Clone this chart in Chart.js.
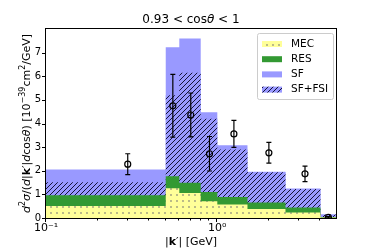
<!DOCTYPE html>
<html>
<head>
<meta charset="utf-8">
<script src="https://cdn.jsdelivr.net/npm/chart.js@4"></script>
<style>
  body { margin: 0; background: #fff; }
  #wrap { width: 374px; height: 249px; }
</style>
</head>
<body>
<div id="wrap"><canvas id="chart" width="374" height="249"></canvas></div>
<script>
// bin edges in |k'| [GeV]
const binEdges = [0.1, 0.5, 0.6, 0.8, 1.0, 1.5, 2.5, 4.0, 4.93];
// stacked heights per bin (each one includes the layers below it)
const mecVals   = [0.51, 1.26, 1.06, 0.71, 0.57, 0.38, 0.23, 0.02];
const resVals   = [0.96, 1.77, 1.49, 1.10, 0.89, 0.66, 0.44, 0.04];
const sfFsiVals = [1.51, 5.20, 6.15, 4.20, 2.90, 1.94, 1.23, 0.15];
const sfVals    = [2.05, 7.23, 7.60, 4.48, 3.08, 1.96, 1.25, 0.15];
// measured points
const dataX   = [0.3, 0.55, 0.7, 0.9, 1.25, 2.0, 3.25, 4.45];
const dataY   = [2.28, 4.75, 4.36, 2.72, 3.56, 2.76, 1.87, 0.03];
const dataErr = [0.44, 1.33, 0.93, 0.73, 0.57, 0.44, 0.33, 0.03];
const yTicks = [0, 1, 2, 3, 4, 5, 6, 7];
const xMajor = [0.1, 1];
const xMinor = [0.2, 0.3, 0.4, 0.5, 0.6, 0.7, 0.8, 0.9, 2, 3, 4];

const FONT = '"DejaVu Sans", sans-serif';
const blue = '#9999ff';
const green = '#339933';
const yellow = '#ffff99';

function hatchPattern() {
  const c = document.createElement('canvas');
  c.width = 5; c.height = 5;
  const g = c.getContext('2d');
  g.fillStyle = blue;
  g.fillRect(0, 0, 5, 5);
  g.strokeStyle = '#15153a';
  g.lineWidth = 1;
  g.beginPath();
  g.moveTo(-1, 6); g.lineTo(6, -1);
  g.moveTo(-1, 1); g.lineTo(1, -1);
  g.moveTo(4, 6); g.lineTo(6, 4);
  g.stroke();
  return g.createPattern(c, 'repeat');
}

function dotPattern() {
  const c = document.createElement('canvas');
  c.width = 6; c.height = 6;
  const g = c.getContext('2d');
  g.fillStyle = yellow;
  g.fillRect(0, 0, 6, 6);
  g.fillStyle = '#9a9a80';
  g.beginPath();
  g.arc(3, 3, 0.9, 0, Math.PI * 2);
  g.fill();
  return g.createPattern(c, 'repeat');
}

const hatch = hatchPattern();
const dots = dotPattern();

function steps(vals) {
  return binEdges.map((e, i) => ({ x: e, y: vals[Math.min(i, vals.length - 1)] }));
}

function stepSet(label, vals, bg, order) {
  return {
    type: 'line', label, data: steps(vals), stepped: 'before',
    fill: 'origin', backgroundColor: bg, borderWidth: 0, pointRadius: 0, order
  };
}

function drawRich(ctx, parts, size) {
  const fonts = {
    n: `${size}px ${FONT}`, i: `italic ${size}px ${FONT}`,
    b: `bold ${size}px ${FONT}`, s: `${Math.round(size * 0.7)}px ${FONT}`
  };
  let w = 0;
  const ws = parts.map(([t, s]) => { ctx.font = fonts[s]; const m = ctx.measureText(t).width; w += m; return m; });
  let x = -w / 2;
  ctx.textBaseline = 'middle';
  ctx.textAlign = 'left';
  parts.forEach(([t, s], k) => {
    ctx.font = fonts[s];
    ctx.fillText(t, x, s === 's' ? -size * 0.38 : 0);
    x += ws[k];
  });
}

const decor = {
  id: 'decor',
  afterDatasetsDraw(chart) {
    const ctx = chart.ctx, xs = chart.scales.x, ys = chart.scales.y, a = chart.chartArea;
    ctx.save();
    // error bars
    ctx.strokeStyle = '#000';
    ctx.lineWidth = 1.2;
    dataX.forEach((xv, i) => {
      const px = xs.getPixelForValue(xv);
      const lo = ys.getPixelForValue(Math.max(0, dataY[i] - dataErr[i]));
      const hi = ys.getPixelForValue(dataY[i] + dataErr[i]);
      ctx.beginPath();
      ctx.moveTo(px, lo); ctx.lineTo(px, hi);
      ctx.moveTo(px - 2.5, lo); ctx.lineTo(px + 2.5, lo);
      ctx.moveTo(px - 2.5, hi); ctx.lineTo(px + 2.5, hi);
      ctx.stroke();
    });
    // frame
    ctx.lineWidth = 1;
    ctx.strokeStyle = '#000';
    ctx.strokeRect(Math.round(a.left) - 0.5, Math.round(a.top) - 0.5, Math.round(a.right - a.left) + 1, Math.round(a.bottom - a.top) + 1);
    // ticks
    ctx.beginPath();
    const b = Math.round(a.bottom) + 0.5;
    xMajor.forEach(v => { const p = Math.round(xs.getPixelForValue(v)) - 0.5; ctx.moveTo(p, b); ctx.lineTo(p, b + 3.5); });
    xMinor.forEach(v => { const p = Math.round(xs.getPixelForValue(v)) - 0.5; ctx.moveTo(p, b); ctx.lineTo(p, b + 2); });
    const l = Math.round(a.left) - 0.5;
    yTicks.forEach(v => { const p = Math.round(ys.getPixelForValue(v)) + 0.5; ctx.moveTo(l, p); ctx.lineTo(l - 3.5, p); });
    ctx.stroke();
    ctx.restore();
  },
  afterDraw(chart) {
    const ctx = chart.ctx, a = chart.chartArea;
    ctx.save();
    ctx.fillStyle = '#000';
    // title
    ctx.save();
    ctx.translate((a.left + a.right) / 2, 20);
    drawRich(ctx, [['0.93 < cos', 'n'], ['θ', 'i'], [' < 1', 'n']], 12);
    ctx.restore();
    // x label
    ctx.save();
    ctx.translate((a.left + a.right) / 2, 242);
    drawRich(ctx, [['|', 'n'], ['k', 'b'], ['′| [GeV]', 'n']], 11);
    ctx.restore();
    // y label
    ctx.save();
    ctx.translate(27, (a.top + a.bottom) / 2);
    ctx.rotate(-Math.PI / 2);
    drawRich(ctx, [['d', 'i'], ['2', 's'], ['σ', 'i'], ['/(', 'n'], ['d', 'i'], ['|', 'n'], ['k', 'b'], ['′|', 'n'],
      ['d', 'i'], ['cos', 'n'], ['θ', 'i'], [') [10', 'n'], ['−39', 's'], ['cm', 'n'], ['2', 's'], ['/GeV]', 'n']], 11);
    ctx.restore();
    // legend
    const lx = 257, ly = 33, lw = 76, lh = 66;
    ctx.fillStyle = 'rgba(255,255,255,0.85)';
    ctx.strokeStyle = '#cccccc';
    ctx.lineWidth = 1;
    ctx.beginPath();
    ctx.roundRect(lx + 0.5, ly + 0.5, lw, lh, 2);
    ctx.fill(); ctx.stroke();
    const items = [['MEC', dots], ['RES', green], ['SF', blue], ['SF+FSI', hatch]];
    ctx.font = `10.5px ${FONT}`;
    ctx.textBaseline = 'middle';
    ctx.textAlign = 'left';
    items.forEach(([name, fill], i) => {
      const cy = 44 + i * 15.2;
      ctx.fillStyle = fill;
      ctx.fillRect(262, cy - 3, 20, 6);
      ctx.fillStyle = '#000';
      ctx.fillText(name, 291, cy);
    });
    ctx.restore();
  }
};

new Chart(document.getElementById('chart'), {
  type: 'line',
  data: {
    datasets: [
      {
        type: 'scatter', label: 'data',
        data: dataX.map((x, i) => ({ x, y: dataY[i] })),
        pointStyle: 'circle', pointRadius: 3, borderColor: '#000', borderWidth: 1.2,
        backgroundColor: 'rgba(0,0,0,0)', showLine: false, order: 0
      },
      stepSet('MEC', mecVals, dots, 1),
      stepSet('RES', resVals, green, 2),
      stepSet('SF+FSI', sfFsiVals, hatch, 3),
      stepSet('SF', sfVals, blue, 4)
    ]
  },
  options: {
    responsive: false,
    animation: false,
    layout: { padding: { left: 0, right: 38, top: 29, bottom: 0 } },
    plugins: { legend: { display: false }, tooltip: { enabled: false } },
    scales: {
      x: {
        type: 'logarithmic', min: 0.1, max: 4.93,
        grid: { display: false, drawTicks: false }, border: { display: false },
        ticks: {
          autoSkip: false, maxRotation: 0, padding: 4,
          color: '#000', font: { family: FONT, size: 11 },
          callback: v => Math.abs(v - 0.1) < 1e-9 ? '10⁻¹' : (Math.abs(v - 1) < 1e-9 ? '10⁰' : '')
        },
        afterFit: s => { s.height = 31; }
      },
      y: {
        min: 0, max: 8,
        grid: { display: false, drawTicks: false }, border: { display: false },
        ticks: {
          stepSize: 1, padding: 5, color: '#000', font: { family: FONT, size: 10 },
          callback: v => v > 7 ? '' : v
        },
        afterFit: s => { s.width = 46; }
      }
    }
  },
  plugins: [decor]
});
</script>
</body>
</html>
